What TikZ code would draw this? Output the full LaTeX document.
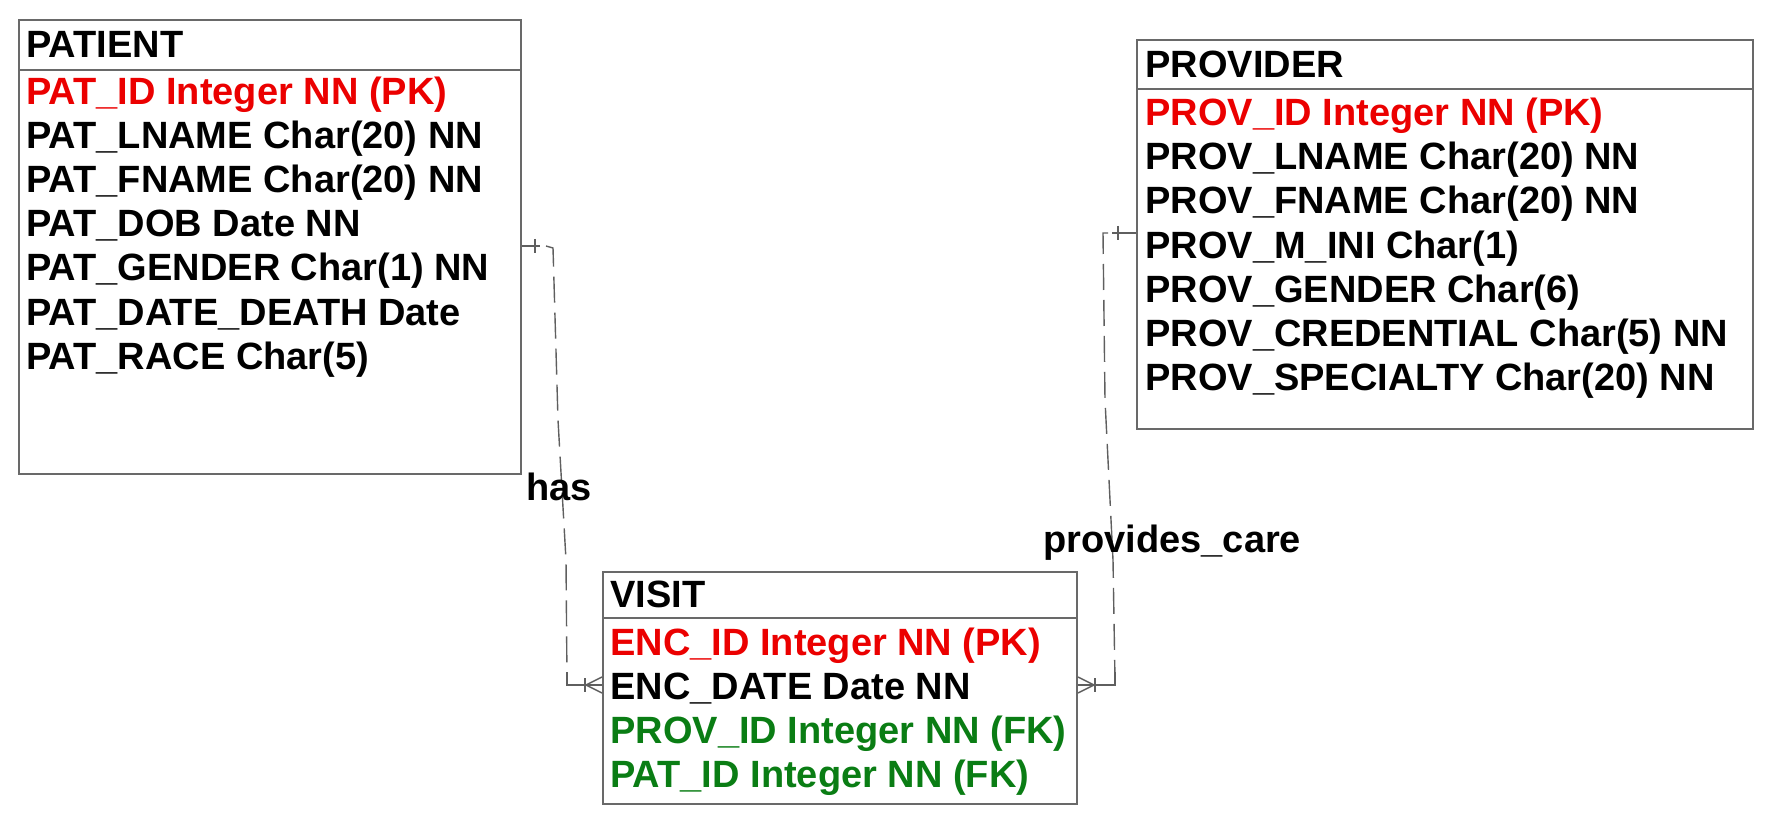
\documentclass[tikz,border=0pt]{standalone}
\usepackage{fontspec}
\setmainfont{Liberation Sans}
\usepackage{tikz}
\usetikzlibrary{calc}
\definecolor{pkred}{RGB}{235,0,0}
\definecolor{fkgreen}{RGB}{10,125,20}
\definecolor{boxgray}{RGB}{105,105,105}
\definecolor{linegray}{RGB}{95,95,95}
\tikzset{
  entity/.style={draw=boxgray, line width=1pt, anchor=north west, inner sep=0pt},
  boxline/.style={draw=boxgray, line width=1pt},
  attr/.style={anchor=base west, inner sep=0pt, font=\fontsize{19}{22}\selectfont\bfseries},
  pk/.style={attr, text=pkred},
  fk/.style={attr, text=fkgreen},
  stub/.style={draw=linegray, line width=0.7pt},
  rel/.style={draw=linegray, line width=0.7pt, dash pattern=on 13pt off 5pt},
  relname/.style={attr}
}
\begin{document}
\begin{tikzpicture}[x=0.5pt,y=-0.5pt]
\useasboundingbox (0,0) rectangle (1777,818);

\node[entity, minimum width=251pt, minimum height=227pt] (patient) at (18,19) {};
\draw[boxline] ([yshift=-25.5pt]patient.north west) -- ([yshift=-25.5pt]patient.north east);
\node[attr] (patname) at (26,58) {PATIENT};
\node[pk] (patid) at (26,105) {PAT\_ID Integer NN (PK)};
\node[attr] (patlname) at (26,149) {PAT\_LNAME Char(20) NN};
\node[attr] (patfname) at (26,193) {PAT\_FNAME Char(20) NN};
\node[attr] (patdob) at (26,237) {PAT\_DOB Date NN};
\node[attr] (patgender) at (26,281) {PAT\_GENDER Char(1) NN};
\node[attr] (patdeath) at (26,325) {PAT\_DATE\_DEATH Date};
\node[attr] (patrace) at (26,369) {PAT\_RACE Char(5)};

\node[entity, minimum width=308pt, minimum height=194.5pt] (provider) at (1136,39) {};
\draw[boxline] ([yshift=-25pt]provider.north west) -- ([yshift=-25pt]provider.north east);
\node[attr] (provname) at (1145,78) {PROVIDER};
\node[pk] (provid) at (1145,126) {PROV\_ID Integer NN (PK)};
\node[attr] (provlname) at (1145,170) {PROV\_LNAME Char(20) NN};
\node[attr] (provfname) at (1145,214) {PROV\_FNAME Char(20) NN};
\node[attr] (provmini) at (1145,258) {PROV\_M\_INI Char(1)};
\node[attr] (provgender) at (1145,302) {PROV\_GENDER Char(6)};
\node[attr] (provcred) at (1145,346) {PROV\_CREDENTIAL Char(5) NN};
\node[attr] (provspec) at (1145,390) {PROV\_SPECIALTY Char(20) NN};

\node[entity, minimum width=237pt, minimum height=116pt] (visit) at (602,571) {};
\draw[boxline] ([yshift=-23.5pt]visit.north west) -- ([yshift=-23.5pt]visit.north east);
\node[attr] (visitname) at (610,607) {VISIT};
\node[pk] (encid) at (610,655) {ENC\_ID Integer NN (PK)};
\node[attr] (encdate) at (610,699) {ENC\_DATE Date NN};
\node[fk] (visitprov) at (610,743) {PROV\_ID Integer NN (FK)};
\node[fk] (visitpat) at (610,787) {PAT\_ID Integer NN (FK)};

\path (patient.north east) ++(0,227) coordinate (hasA);
\path (visit.north west) ++(0,114) coordinate (hasB);
\draw[stub] (hasA) -- ++(18,0);
\draw[stub] ([xshift=6.5pt]hasA) ++(0,-7) -- ++(0,14);
\draw[rel] (546,246) -- (553,248) -- (558,420) -- (566,560) -- (567,680);
\draw[stub] (567,672) |- (hasB);
\draw[stub] ([xshift=-8.5pt]hasB) ++(0,-7) -- ++(0,14);
\draw[stub] ([xshift=-8pt]hasB) -- ++(16,-8) ++(-16,8) -- ++(16,8) ++(-16,-8) -- ++(16,0);
\node[relname] (has) at (526,500) {has};

\path (provider.north west) ++(0,194) coordinate (careA);
\path (visit.north east) ++(0,114) coordinate (careB);
\draw[stub] (careA) -- ++(-24,0);
\draw[stub] ([xshift=-9pt]careA) ++(0,-7) -- ++(0,14);
\draw[rel] (1108,233) -- (1103,233) -- (1105,400) -- (1113,560) -- (1115,680);
\draw[stub] (1115,672) |- (careB);
\draw[stub] ([xshift=8.5pt]careB) ++(0,-7) -- ++(0,14);
\draw[stub] ([xshift=8pt]careB) -- ++(-16,-8) ++(16,8) -- ++(-16,8) ++(16,-8) -- ++(-16,0);
\node[relname] (care) at (1043,552) {provides\_care};
\end{tikzpicture}
\end{document}
